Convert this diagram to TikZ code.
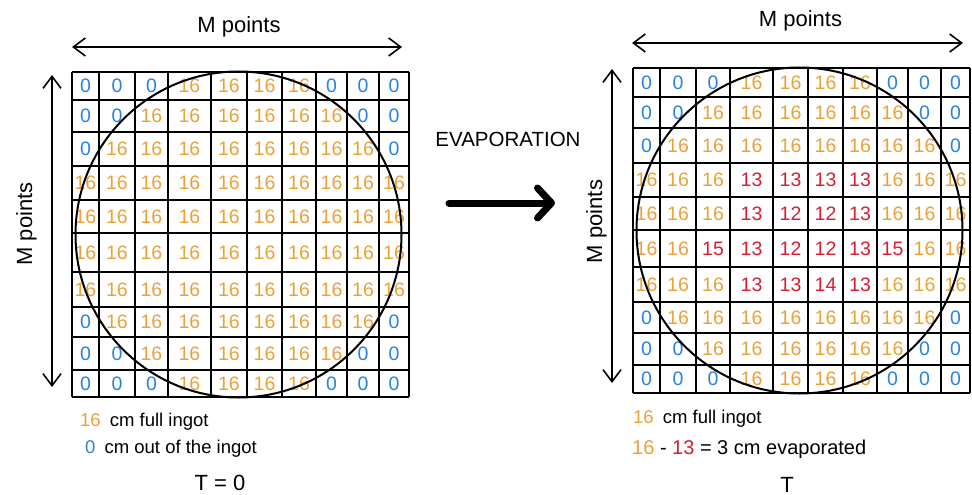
\documentclass[tikz,border=0pt]{standalone}
\usepackage{fontspec}
\setmainfont{Liberation Sans}
\usetikzlibrary{arrows.meta}
\definecolor{ingot}{RGB}{236,160,56}
\definecolor{outc}{RGB}{40,130,226}
\definecolor{evap}{RGB}{214,30,52}
\newcommand{\cellval}[1]{\ifnum#1=0 \textcolor{outc}{#1}\else\ifnum#1=16 \textcolor{ingot}{#1}\else\textcolor{evap}{#1}\fi\fi}
\def\Lcols{{85.5,117,151.5,189.5,229,264.5,299,331.5,363,394}}
\def\Rcols{{646.5,678,713,751.5,790.5,825.5,860,892.5,924.5,955.5}}
% #1 prefix, #2 column centres, #3 row index, #4 y, #5 values
\newcommand{\numrow}[5]{%
  \foreach \v [count=\c from 0] in {#5} {%
    \pgfmathsetmacro\xx{#2[\c]}%
    \node[num] (#1-#3-\c) at (\xx,#4) {\cellval{\v}};%
  }}
\begin{document}
\begin{tikzpicture}[x=1pt,y=-1pt,
  num/.style={font=\fontsize{19.5}{21}\selectfont,inner sep=0pt},
  gridline/.style={line width=2pt,black},
  ring/.style={line width=2pt,black},
  dim/.style={line width=1.6pt,{Straight Barb[length=12pt,width=18pt]}-{Straight Barb[length=12pt,width=18pt]}},
  lbl/.style={font=\fontsize{22}{26}\selectfont,inner sep=0pt},
  leg/.style={font=\fontsize{18.5}{22}\selectfont,inner sep=0pt,anchor=base west},
  bigarrow/.style={line width=7pt,line cap=round,-{Straight Barb[length=14pt,width=30pt,round]}}]
\useasboundingbox (0,0) rectangle (972,495);
\fill[white] (0,0) rectangle (972,495);

% ---------- left grid ----------
\foreach \x in {72,99,135,168,211,247,282,316,347,379,409}
  \draw[gridline] (\x,72) -- (\x,397);
\foreach \y in {72,100,132,166,200,233,272,307,337,370,397}
  \draw[gridline] (72,\y) -- (409,\y);
\numrow{L}{\Lcols}{1}{86}{0,0,0,16,16,16,16,0,0,0}
\numrow{L}{\Lcols}{2}{116}{0,0,16,16,16,16,16,16,0,0}
\numrow{L}{\Lcols}{3}{149}{0,16,16,16,16,16,16,16,16,0}
\numrow{L}{\Lcols}{4}{183}{16,16,16,16,16,16,16,16,16,16}
\numrow{L}{\Lcols}{5}{216.5}{16,16,16,16,16,16,16,16,16,16}
\numrow{L}{\Lcols}{6}{252.5}{16,16,16,16,16,16,16,16,16,16}
\numrow{L}{\Lcols}{7}{289.5}{16,16,16,16,16,16,16,16,16,16}
\numrow{L}{\Lcols}{8}{322}{0,16,16,16,16,16,16,16,16,0}
\numrow{L}{\Lcols}{9}{353.5}{0,0,16,16,16,16,16,16,0,0}
\numrow{L}{\Lcols}{10}{383.5}{0,0,0,16,16,16,16,0,0,0}
\draw[ring] (238.5,234.5) circle[radius=163pt];

% ---------- right grid ----------
\foreach \x in {633,660,696,730,773,808,843,877,908,941,970}
  \draw[gridline] (\x,68) -- (\x,393);
\foreach \y in {68,97,128,163,197,230,267,302,333,365,393}
  \draw[gridline] (633,\y) -- (970,\y);
\numrow{R}{\Rcols}{1}{82.5}{0,0,0,16,16,16,16,0,0,0}
\numrow{R}{\Rcols}{2}{112.5}{0,0,16,16,16,16,16,16,0,0}
\numrow{R}{\Rcols}{3}{145.5}{0,16,16,16,16,16,16,16,16,0}
\numrow{R}{\Rcols}{4}{180}{16,16,16,13,13,13,13,16,16,16}
\numrow{R}{\Rcols}{5}{213.5}{16,16,16,13,12,12,13,16,16,16}
\numrow{R}{\Rcols}{6}{248.5}{16,16,15,13,12,12,13,15,16,16}
\numrow{R}{\Rcols}{7}{284.5}{16,16,16,13,13,14,13,16,16,16}
\numrow{R}{\Rcols}{8}{317.5}{0,16,16,16,16,16,16,16,16,0}
\numrow{R}{\Rcols}{9}{349}{0,0,16,16,16,16,16,16,0,0}
\numrow{R}{\Rcols}{10}{379}{0,0,0,16,16,16,16,0,0,0}
\draw[ring] (799.5,230.5) circle[radius=163pt];

% ---------- dimension arrows ----------
\coordinate (LTa) at (72,47);  \coordinate (LTb) at (402,47);
\coordinate (LVa) at (52,75);  \coordinate (LVb) at (52,387);
\coordinate (RTa) at (632,43); \coordinate (RTb) at (963,43);
\coordinate (RVa) at (612,69); \coordinate (RVb) at (612,383);
\draw[dim] (LTa) -- (LTb);
\draw[dim] (LVa) -- (LVb);
\draw[dim] (RTa) -- (RTb);
\draw[dim] (RVa) -- (RVb);
\node[lbl,anchor=base] (ltop) at (239,33) {M points};
\node[lbl,anchor=base] (rtop) at (800.5,27) {M points};
\node[lbl,anchor=base,rotate=90] (lside) at (32,224) {M points};
\node[lbl,anchor=base,rotate=90] (rside) at (602,221.5) {M points};

% ---------- evaporation arrow ----------
\node[font=\fontsize{20.5}{24}\selectfont,inner sep=0pt,anchor=base] (evap) at (508,146.5) {EVAPORATION};
\coordinate (ea) at (449,203);
\coordinate (eb) at (555,203);
\draw[bigarrow] (ea) -- (eb);

% ---------- legends ----------
\node[leg] (l1) at (80,426) {\textcolor{ingot}{16}\hspace{4pt} cm full ingot};
\node[leg] (l2) at (85,453) {\textcolor{outc}{0}\hspace{4pt} cm out of the ingot};
\node[lbl,anchor=base] (t0) at (220,490) {T = 0};
\node[leg] (r1) at (633,423) {\textcolor{ingot}{16}\hspace{4pt} cm full ingot};
\node[leg,font=\fontsize{20}{24}\selectfont] (r2) at (632,454) {\textcolor{ingot}{16} - \textcolor{evap}{13} = 3 cm evaporated};
\node[lbl,anchor=base] (t1) at (787,492) {T};
\end{tikzpicture}
\end{document}
